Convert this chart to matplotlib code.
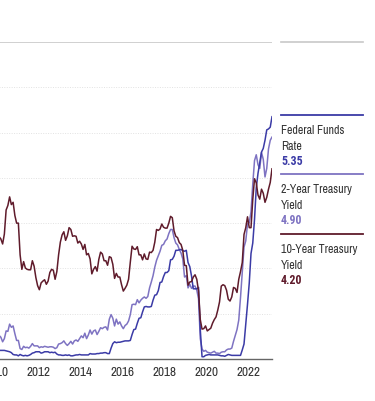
import numpy as np
import matplotlib
matplotlib.use("Agg")
import matplotlib.pyplot as plt
from matplotlib.lines import Line2D

# monthly averages, Jan 2010 .. Aug 2023
ten_year = [
    3.73, 3.69, 3.73, 3.85, 3.42, 3.20, 3.01, 2.70, 2.65, 2.54, 2.76, 3.29,
    3.39, 3.58, 3.41, 3.46, 3.17, 3.00, 3.00, 2.30, 1.98, 2.15, 2.01, 1.98,
    1.97, 1.97, 2.17, 2.05, 1.80, 1.62, 1.53, 1.68, 1.72, 1.75, 1.65, 1.72,
    1.91, 1.98, 1.96, 1.76, 1.93, 2.30, 2.58, 2.74, 2.81, 2.62, 2.72, 2.90,
    2.86, 2.71, 2.72, 2.71, 2.56, 2.60, 2.54, 2.42, 2.53, 2.30, 2.33, 2.21,
    1.88, 1.98, 2.04, 1.94, 2.20, 2.36, 2.32, 2.17, 2.17, 2.07, 2.26, 2.24,
    2.09, 1.78, 1.89, 1.81, 1.81, 1.64, 1.50, 1.56, 1.63, 1.76, 2.14, 2.49,
    2.43, 2.42, 2.48, 2.30, 2.30, 2.19, 2.32, 2.21, 2.20, 2.36, 2.35, 2.40,
    2.58, 2.86, 2.84, 2.87, 2.98, 2.91, 2.89, 2.89, 3.00, 3.15, 3.12, 2.83,
    2.71, 2.68, 2.57, 2.53, 2.40, 2.07, 2.06, 1.63, 1.70, 1.71, 1.81, 1.86,
    1.76, 1.50, 0.87, 0.66, 0.67, 0.73, 0.62, 0.65, 0.68, 0.79, 0.87, 0.93,
    1.08, 1.26, 1.61, 1.64, 1.62, 1.52, 1.32, 1.28, 1.37, 1.58, 1.56, 1.47,
    1.76, 1.93, 2.13, 2.75, 2.90, 3.14, 2.90, 2.90, 3.52, 3.98, 3.89, 3.62,
    3.53, 3.75, 3.66, 3.46, 3.57, 3.75, 3.90, 4.20,
]
two_year = [
    0.93, 0.86, 0.96, 1.06, 0.83, 0.72, 0.62, 0.52, 0.48, 0.38, 0.45, 0.62,
    0.61, 0.77, 0.70, 0.73, 0.56, 0.41, 0.41, 0.23, 0.21, 0.28, 0.25, 0.26,
    0.24, 0.28, 0.34, 0.29, 0.29, 0.29, 0.25, 0.27, 0.26, 0.28, 0.27, 0.26,
    0.27, 0.27, 0.26, 0.23, 0.25, 0.33, 0.34, 0.36, 0.40, 0.34, 0.30, 0.34,
    0.39, 0.33, 0.40, 0.42, 0.39, 0.45, 0.51, 0.47, 0.57, 0.45, 0.53, 0.64,
    0.55, 0.62, 0.64, 0.54, 0.61, 0.69, 0.67, 0.70, 0.71, 0.64, 0.88, 0.98,
    0.90, 0.73, 0.88, 0.77, 0.82, 0.73, 0.67, 0.74, 0.77, 0.84, 0.98, 1.20,
    1.21, 1.20, 1.31, 1.24, 1.30, 1.34, 1.37, 1.34, 1.38, 1.57, 1.70, 1.84,
    2.03, 2.18, 2.28, 2.38, 2.51, 2.53, 2.61, 2.65, 2.77, 2.86, 2.86, 2.68,
    2.56, 2.52, 2.42, 2.34, 2.21, 1.81, 1.84, 1.57, 1.65, 1.56, 1.61, 1.61,
    1.52, 1.33, 0.45, 0.22, 0.17, 0.19, 0.15, 0.14, 0.13, 0.15, 0.17, 0.13,
    0.13, 0.12, 0.15, 0.16, 0.16, 0.20, 0.22, 0.22, 0.24, 0.39, 0.52, 0.65,
    0.86, 1.36, 1.93, 2.47, 2.61, 2.98, 3.01, 3.25, 3.86, 4.38, 4.51, 4.29,
    4.21, 4.56, 4.41, 4.02, 4.21, 4.64, 4.83, 4.90,
]
fed_funds = [
    0.11, 0.13, 0.16, 0.20, 0.20, 0.18, 0.18, 0.19, 0.19, 0.19, 0.19, 0.18,
    0.17, 0.16, 0.14, 0.10, 0.09, 0.09, 0.07, 0.10, 0.08, 0.07, 0.08, 0.07,
    0.08, 0.10, 0.13, 0.14, 0.16, 0.16, 0.16, 0.13, 0.14, 0.16, 0.16, 0.16,
    0.14, 0.15, 0.14, 0.15, 0.11, 0.09, 0.09, 0.08, 0.08, 0.09, 0.08, 0.09,
    0.07, 0.07, 0.08, 0.09, 0.09, 0.10, 0.09, 0.09, 0.09, 0.09, 0.09, 0.12,
    0.11, 0.11, 0.11, 0.12, 0.12, 0.13, 0.13, 0.14, 0.14, 0.12, 0.12, 0.24,
    0.34, 0.38, 0.36, 0.37, 0.37, 0.38, 0.39, 0.40, 0.40, 0.40, 0.41, 0.54,
    0.65, 0.66, 0.79, 0.90, 0.91, 1.04, 1.15, 1.16, 1.15, 1.15, 1.16, 1.30,
    1.41, 1.42, 1.51, 1.69, 1.70, 1.82, 1.91, 1.91, 1.95, 2.19, 2.20, 2.27,
    2.40, 2.40, 2.41, 2.42, 2.39, 2.38, 2.40, 2.13, 2.04, 1.83, 1.55, 1.55,
    1.55, 1.58, 0.65, 0.05, 0.05, 0.08, 0.09, 0.10, 0.09, 0.09, 0.09, 0.09,
    0.09, 0.08, 0.07, 0.07, 0.06, 0.08, 0.10, 0.09, 0.08, 0.08, 0.08, 0.08,
    0.08, 0.08, 0.20, 0.33, 0.77, 1.21, 1.68, 2.33, 2.56, 3.08, 3.78, 4.10,
    4.33, 4.57, 4.65, 4.83, 5.06, 5.08, 5.12, 5.35,
]
year_labels = [str(y) for y in range(2010, 2023, 2)]
legend_names = [("Federal Funds", "Rate"), ("2-Year Treasury", "Yield"), ("10-Year Treasury", "Yield")]
legend_values = ["5.35", "4.90", "4.20"]

c_fed = "#3b3ba6"
c_two = "#7e73c2"
c_ten = "#5f1b2b"

plt.rcParams["font.family"] = ["Archivo Narrow", "Roboto Condensed", "DejaVu Sans"]
bold_family = ["Roboto Condensed", "DejaVu Sans"]

n = len(ten_year)
x = 2010 + (np.arange(n) + 0.5) / 12

W, H = 375, 402
fig = plt.figure(figsize=(W / 100, H / 100), dpi=100)
ax = fig.add_axes([-14 / W, (H - 360) / H, 286 / W, 317 / H])

ax.plot(x, fed_funds, color=c_fed, lw=1.1, zorder=3)
ax.plot(x, two_year, color=c_two, lw=1.1, zorder=2)
ax.plot(x, ten_year, color=c_ten, lw=1.1, zorder=4)

ax.set_xlim(2010.0, x[-1])
ax.set_ylim(0, 7)
for v in range(1, 7):
    ax.axhline(v, color="#e2e2e2", lw=0.7, ls=(0, (1, 1.5)), zorder=0)
ax.axhline(7, color="#c8c8c8", lw=1.2, zorder=0)
for s in ["top", "right", "left"]:
    ax.spines[s].set_visible(False)
ax.spines["bottom"].set_color("#666666")
ax.spines["bottom"].set_linewidth(1.0)
ax.set_yticks([])
ax.set_xticks([int(y) + 0.5 for y in year_labels])
ax.set_xticklabels(year_labels)
ax.tick_params(axis="x", length=0, pad=5, labelsize=9.5, labelcolor="#333333")

# right-hand legend
lx0, lx1 = 281 / W, 363 / W
def fy(py):
    return 1 - py / H

fig.add_artist(Line2D([lx0, lx1], [fy(43), fy(43)], color="#c8c8c8", lw=1.2))
rows = [(116, c_fed), (175, c_two), (235, c_ten)]
for (py, col), (l1, l2), val in zip(rows, legend_names, legend_values):
    fig.add_artist(Line2D([lx0, lx1], [fy(py), fy(py)], color=col, lw=1.3))
    fig.text(lx0, fy(py + 18), l1, ha="left", va="baseline", fontsize=8.6, color="#333333")
    fig.text(lx0, fy(py + 34), l2, ha="left", va="baseline", fontsize=8.6, color="#333333")
    fig.text(lx0, fy(py + 49), val, ha="left", va="baseline", fontsize=8.6,
             color=col, fontweight="bold", family=bold_family)

fig.savefig("out.png", dpi=100)
